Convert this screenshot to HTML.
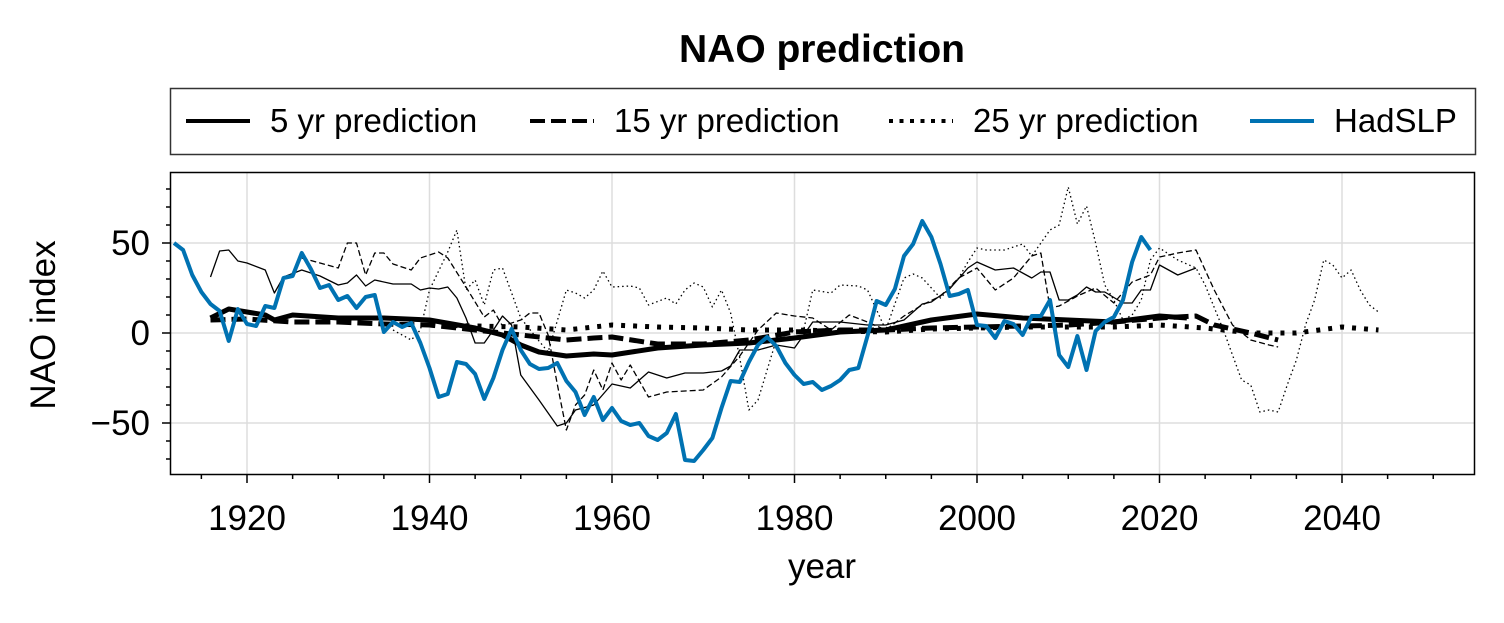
<!DOCTYPE html>
<html><head><meta charset="utf-8"><style>
body{margin:0;background:#fff;}
svg text{font-family:"Liberation Sans",sans-serif;fill:#000;}
</style></head><body>
<svg id="s" width="1504" height="618" viewBox="0 0 1504 618" xmlns="http://www.w3.org/2000/svg">
<rect width="1504" height="618" fill="#fff"/>
<text x="822" y="62" font-size="39" font-weight="bold" text-anchor="middle">NAO prediction</text>
<rect x="170.5" y="88.5" width="1305" height="66" fill="#fff" stroke="#333" stroke-width="1.5"/>
<line x1="186" y1="121" x2="250" y2="121" stroke="#000" stroke-width="4"/>
<text x="270" y="132" font-size="33">5 yr prediction</text>
<line x1="530" y1="121" x2="594" y2="121" stroke="#000" stroke-width="4" stroke-dasharray="15,6"/>
<text x="614" y="132" font-size="33">15 yr prediction</text>
<line x1="889" y1="121" x2="953" y2="121" stroke="#000" stroke-width="4" stroke-dasharray="4,6.5"/>
<text x="973" y="132" font-size="33">25 yr prediction</text>
<line x1="1250" y1="121" x2="1314" y2="121" stroke="#0072b2" stroke-width="4"/>
<text x="1334" y="132" font-size="33">HadSLP</text>
<g id="grid" stroke="#ddd" stroke-width="1.5"></g>
<defs><clipPath id="c"><rect x="170" y="172" width="1305" height="303"/></clipPath></defs>
<g id="data" clip-path="url(#c)" fill="none" stroke-linejoin="round"></g>
<rect x="170.5" y="172.5" width="1304" height="302" fill="none" stroke="#000" stroke-width="1.5"/>
<g id="ticks" stroke="#000" stroke-width="1.5"></g>
<g id="lab" font-size="35"></g>
<text x="822" y="578" font-size="35" text-anchor="middle">year</text>
<text transform="translate(55,325) rotate(-90)" font-size="35" text-anchor="middle">NAO index</text>
</svg>
<script>
const NS="http://www.w3.org/2000/svg";
const X=y=>247+(y-1920)*9.125, Y=v=>333-1.8*v;
function el(p,t,a,txt){const e=document.createElementNS(NS,t);for(const k in a)e.setAttribute(k,a[k]);if(txt!==undefined)e.textContent=txt;document.getElementById(p).appendChild(e);}
for(let y=1920;y<=2040;y+=20){el('grid','line',{x1:X(y),y1:172,x2:X(y),y2:475});el('ticks','line',{x1:X(y),y1:475,x2:X(y),y2:483});el('lab','text',{x:X(y),y:530,'text-anchor':'middle'},y);}
for(let y=1915;y<=2050;y+=5){if(y%20)el('ticks','line',{x1:X(y),y1:475,x2:X(y),y2:479});}
for(const v of [-50,0,50]){el('grid','line',{x1:170,y1:Y(v),x2:1475,y2:Y(v)});el('ticks','line',{x1:162,y1:Y(v),x2:170,y2:Y(v)});el('lab','text',{x:150,y:Y(v)+12,'text-anchor':'end'},v<0?'\u2212'+(-v):v);}
for(let v=-70;v<=80;v+=10){if(v%50)el('ticks','line',{x1:166,y1:Y(v),x2:170,y2:Y(v)});}
function line(pts,st){el('data','polyline',Object.assign({points:pts.map(p=>X(p[0])+','+p[1]).join(' ')},st));}
line([[1936,330],[1938,340],[1939,330],[1940,290],[1942,252],[1943,230],[1944,290],[1945,280],[1946,305],[1947,270],[1948,268],[1950,318],[1952,341],[1953,352],[1955,290],[1956,293],[1957,298],[1958,290],[1959,271],[1960,287],[1962,286],[1963,288],[1964,305],[1966,298],[1967,304],[1968,290],[1969,283],[1970,287],[1971,307],[1972,290],[1973,313],[1974,358],[1975,410],[1976,400],[1978,340],[1980,330],[1981,330],[1982,290],[1984,293],[1985,285],[1987,286],[1988,290],[1990,330],[1992,278],[1993,274],[1994,278],[1996,298],[1998,278],[1999,262],[2000,248],[2001,250],[2003,250],[2005,244],[2006,256],[2008,230],[2009,225],[2010,187],[2011,224],[2012,206],[2013,243],[2014,285],[2015,300],[2016,320],[2017,315],[2018,300],[2019,260],[2020,248],[2022,260],[2024,268],[2025,285],[2027,330],[2029,380],[2030,385],[2031,412],[2032,410],[2033,412],[2034,385],[2035,360],[2036,325],[2037,300],[2038,260],[2039,265],[2040,278],[2041,270],[2042,290],[2043,305],[2044,312]],{stroke:'#000','stroke-width':1.3,'stroke-dasharray':'1.5,3'});
line([[1926,258],[1930,268],[1931,243],[1932,243],[1933,275],[1934,253],[1935,253],[1936,264],[1938,270],[1939,258],[1941,252],[1942,258],[1944,287],[1946,317],[1947,310],[1948,326],[1950,320],[1951,313],[1952,313],[1953,335],[1954,384],[1955,430],[1956,405],[1957,395],[1958,370],[1959,390],[1960,363],[1961,380],[1962,365],[1964,397],[1966,392],[1968,391],[1970,390],[1972,377],[1974,356],[1976,330],[1978,313],[1980,316],[1982,318],[1984,330],[1986,315],[1988,322],[1990,330],[1992,316],[1994,305],[1996,296],[1998,278],[2000,268],[2002,290],[2004,278],[2006,256],[2007,253],[2008,308],[2009,306],[2011,296],[2013,288],[2015,303],[2017,282],[2019,275],[2020,257],[2022,253],[2024,250],[2026,290],[2028,325],[2030,340],[2032,345],[2033,347]],{stroke:'#000','stroke-width':1.3,'stroke-dasharray':'6,3'});
line([[1916,277],[1917,251],[1918,250],[1919,261],[1920,263],[1922,270],[1923,293],[1924,277],[1926,270],[1928,276],[1930,285],[1931,283],[1932,275],[1933,286],[1934,280],[1936,284],[1938,284],[1939,290],[1940,288],[1941,289],[1942,287],[1943,298],[1944,318],[1945,343],[1946,343],[1947,330],[1948,316],[1949,325],[1950,375],[1952,400],[1954,426],[1955,423],[1956,410],[1958,405],[1960,384],[1962,388],[1964,372],[1966,378],[1968,373],[1970,373],[1972,371],[1973,366],[1974,350],[1976,350],[1978,345],[1980,348],[1982,322],[1985,322],[1988,325],[1990,325],[1992,320],[1994,304],[1995,302],[1997,289],[1999,268],[2000,262],[2002,270],[2004,268],[2006,278],[2007,272],[2008,272],[2009,300],[2010,300],[2011,295],[2012,287],[2013,292],[2014,292],[2016,303],[2017,303],[2018,290],[2019,290],[2020,265],[2022,275],[2024,268]],{stroke:'#000','stroke-width':1.3});
line([[1940,325],[1945,326],[1950,327],[1955,330],[1960,325],[1965,327],[1970,328],[1975,330],[1980,330],[1985,331],[1990,332],[1995,329],[2000,328],[2005,327],[2010,327],[2015,327],[2020,325],[2025,328],[2030,333],[2035,333],[2040,327],[2044,330]],{stroke:'#000','stroke-width':5,'stroke-dasharray':'4,8'});
line([[1916,320],[1920,319],[1925,322],[1930,322],[1935,324],[1940,325],[1945,330],[1950,335],[1955,340],[1958,338],[1960,337],[1965,344],[1970,344],[1975,340],[1980,332],[1985,330],[1990,330],[1995,328],[2000,327],[2005,326],[2010,325],[2015,322],[2020,318],[2024,316],[2026,325],[2030,333],[2033,340]],{stroke:'#000','stroke-width':5,'stroke-dasharray':'15,6'});
line([[1916,318],[1918,309],[1920,312],[1922,315],[1923,320],[1925,315],[1930,318],[1935,318],[1940,320],[1945,328],[1948,335],[1950,345],[1952,352],[1955,356],[1958,354],[1960,355],[1965,348],[1970,345],[1975,343],[1980,338],[1985,332],[1990,330],[1995,320],[2000,314],[2005,318],[2010,320],[2015,322],[2020,316],[2023,318]],{stroke:'#000','stroke-width':5});
const b=[243,250,275,292,304,311,341,309,324,326,306,308,278,276,253,269,288,285,300,296,308,297,295,332,322,327,323,343,368,397,394,362,364,374,399,378,350,329,350,364,369,368,363,381,392,415,397,420,408,421,425,423,436,440,433,414,460,461,450,438,408,381,382,362,345,337,346,363,375,384,382,390,386,380,370,368,336,301,305,289,256,244,221,237,264,296,294,290,325,326,338,321,324,335,316,316,300,355,367,336,370,331,322,317,300,262,237,250];
line(b.map((v,i)=>[1912+i,v]),{stroke:'#0072b2','stroke-width':4});
</script>
</body></html>
